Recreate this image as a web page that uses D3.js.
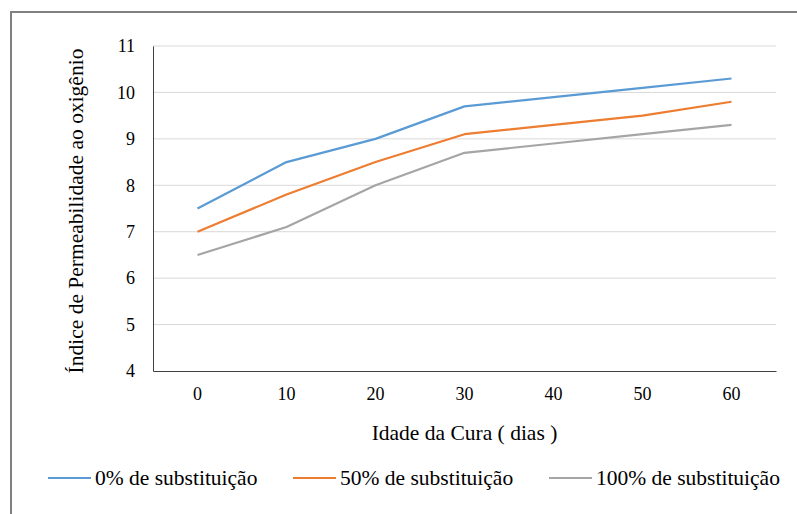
<!DOCTYPE html>
<html>
<head>
<meta charset="utf-8">
<script src="https://cdn.jsdelivr.net/npm/d3@7"></script>
<style>
  body { margin: 0; background: #fff; }
</style>
</head>
<body>
<svg class="chart" width="797" height="514"></svg>
<script>
var days = ["0", "10", "20", "30", "40", "50", "60"];
var sub0 = [7.5, 8.5, 9.0, 9.7, 9.9, 10.1, 10.3];
var sub50 = [7.0, 7.8, 8.5, 9.1, 9.3, 9.5, 9.8];
var sub100 = [6.5, 7.1, 8.0, 8.7, 8.9, 9.1, 9.3];
var seriesNames = ["0% de substituição", "50% de substituição", "100% de substituição"];
var yTicks = [4, 5, 6, 7, 8, 9, 10, 11];

var colors = ["#5b9bd5", "#ed7d31", "#a5a5a5"];
var series = [sub0, sub50, sub100];
var font = "Liberation Serif";

var margin = {top: 46, right: 21, bottom: 143, left: 153};
var width = 797 - margin.left - margin.right;
var height = 514 - margin.top - margin.bottom;

var svg = d3.select(".chart");

// outer frame
svg.append("rect")
  .attr("x", 11).attr("y", 12)
  .attr("width", 800).attr("height", 520)
  .attr("fill", "none")
  .attr("stroke", "#808080")
  .attr("stroke-width", 2);

var chart = svg.append("g").attr("transform", "translate(" + margin.left + "," + margin.top + ")");

var x = d3.scaleBand().domain(days).range([0, width]);
var y = d3.scaleLinear().domain([4, 11]).range([height, 0]);

// gridlines
chart.append("g")
  .selectAll("line")
  .data(yTicks.slice(1))
  .enter().append("line")
  .attr("x1", 0).attr("x2", width)
  .attr("y1", function(d) { return y(d); })
  .attr("y2", function(d) { return y(d); })
  .attr("stroke", "#d9d9d9")
  .attr("stroke-width", 1);

// y axis
var yAxis = chart.append("g")
  .attr("font-family", font)
  .call(d3.axisLeft(y).tickValues(yTicks).tickFormat(d3.format("d")).tickSize(0).tickPadding(18));
yAxis.attr("font-family", font);
yAxis.select(".domain").attr("stroke", "#404040");
yAxis.selectAll("text").attr("font-size", 18).attr("fill", "#000").attr("font-family", font);

// x axis
var xAxis = chart.append("g")
  .attr("transform", "translate(0," + height + ")")
  .call(d3.axisBottom(x).tickSize(0).tickPadding(16));
xAxis.attr("font-family", font);
xAxis.select(".domain").attr("stroke", "#404040");
xAxis.selectAll("text").attr("font-size", 18).attr("fill", "#000").attr("font-family", font);

// lines
var line = d3.line()
  .x(function(d, i) { return x(days[i]) + x.bandwidth() / 2; })
  .y(function(d) { return y(d); });

series.forEach(function(s, k) {
  chart.append("path")
    .datum(s)
    .attr("d", line)
    .attr("fill", "none")
    .attr("stroke", colors[k])
    .attr("stroke-width", 2.2)
    .attr("stroke-linejoin", "round");
});

// axis titles
svg.append("text")
  .attr("x", margin.left + width / 2)
  .attr("y", 440)
  .attr("text-anchor", "middle")
  .attr("font-family", font)
  .attr("font-size", 21.5)
  .text("Idade da Cura ( dias )");

svg.append("text")
  .attr("transform", "translate(83,211) rotate(-90)")
  .attr("text-anchor", "middle")
  .attr("font-family", font)
  .attr("font-size", 21.5)
  .text("Índice de Permeabilidade ao oxigênio");

// legend
var legendX = [48, 293, 549];
var legend = svg.append("g");
seriesNames.forEach(function(name, k) {
  legend.append("line")
    .attr("x1", legendX[k]).attr("x2", legendX[k] + 43)
    .attr("y1", 478).attr("y2", 478)
    .attr("stroke", colors[k])
    .attr("stroke-width", 2.2);
  legend.append("text")
    .attr("x", legendX[k] + 47)
    .attr("y", 485)
    .attr("font-family", font)
    .attr("font-size", 21.5)
    .text(name);
});
</script>
</body>
</html>
